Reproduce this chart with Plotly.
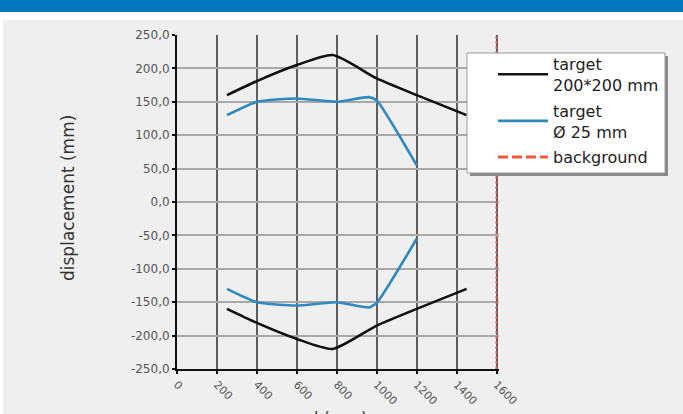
import plotly.graph_objects as go

# ---- data ----
x_big = [250, 400, 600, 780, 1000, 1200, 1450]
y_big_upper = [160, 181, 205, 220, 185, 160, 130]
y_big_lower = [-160, -181, -205, -220, -185, -160, -130]

x_small = [250, 400, 600, 800, 960, 1000, 1200]
y_small_upper = [130, 150, 155, 150, 157, 152, 55]
y_small_lower = [-130, -150, -155, -150, -158, -151, -55]

x_background = [1600, 1600]
y_background = [-250, 250]

x_tick_vals = [0, 200, 400, 600, 800, 1000, 1200, 1400, 1600]
x_tick_labels = ["0", "200", "400", "600", "800", "1000", "1200", "1400", "1600"]
y_tick_vals = [250, 200, 150, 100, 50, 0, -50, -100, -150, -200, -250]
y_tick_labels = ["250,0", "200,0", "150,0", "100,0", "50,0", "0,0", "-50,0",
                 "-100,0", "-150,0", "-200,0", "-250,0"]

names = ["target<br>200*200 mm", "target<br>Ø 25 mm", "background"]

# ---- layout geometry (pixels) ----
W, H = 683, 414
ML, MR, MT, MB = 177, 184, 35, 45
PW, PH = W - ML - MR, H - MT - MB


def px(x):
    return (x - ML) / PW


def py(y):
    return (H - MB - y) / PH


TXT = "DejaVu Sans, Verdana, sans-serif"

fig = go.Figure()

fig.add_trace(go.Scatter(
    x=x_big + [None] + x_big, y=y_big_upper + [None] + y_big_lower,
    mode="lines", name=names[0], line=dict(color="#111111", width=2.6, shape="spline", smoothing=0.6),
    connectgaps=False))
fig.add_trace(go.Scatter(
    x=x_small + [None] + x_small, y=y_small_upper + [None] + y_small_lower,
    mode="lines", name=names[1], line=dict(color="#2f88c2", width=2.6, shape="spline", smoothing=0.5),
    connectgaps=False))
fig.add_trace(go.Scatter(
    x=x_background, y=y_background, mode="lines", name=names[2], showlegend=False,
    legendgroup="bg", line=dict(color="#c65a5a", width=2, dash="3px,2px")))
fig.add_trace(go.Scatter(
    x=[None], y=[None], mode="lines", name=names[2], legendgroup="bg",
    line=dict(color="#f0583c", width=3, dash="10px,4px")))

shapes = [
    dict(type="rect", xref="paper", yref="paper", x0=px(0), x1=px(W), y0=py(12), y1=py(0),
         fillcolor="#0277bd", line=dict(width=0), layer="below"),
    dict(type="rect", xref="paper", yref="paper", x0=px(3), x1=px(W), y0=py(H), y1=py(20),
         fillcolor="#efefef", line=dict(width=0), layer="below"),
    # legend shadow + box
    dict(type="rect", xref="paper", yref="paper", x0=px(470), x1=px(668), y0=py(176), y1=py(56),
         fillcolor="#8a8a8a", line=dict(width=0), layer="above"),
    dict(type="rect", xref="paper", yref="paper", x0=px(467), x1=px(665), y0=py(173), y1=py(53),
         fillcolor="white", line=dict(width=1, color="#9a9a9a"), layer="above"),
]

fig.update_layout(
    width=W, height=H,
    margin=dict(l=ML, r=MR, t=MT, b=MB, pad=0, autoexpand=False),
    paper_bgcolor="white", plot_bgcolor="#efefef",
    shapes=shapes,
    showlegend=True,
    legend=dict(xref="container", yref="container", x=493 / W, y=1 - 47 / H,
                xanchor="left", yanchor="top",
                bgcolor="rgba(0,0,0,0)", borderwidth=0,
                font=dict(family=TXT, size=16, color="#222222"),
                tracegroupgap=2, itemwidth=50),
    annotations=[
        dict(text="displacement (mm)", textangle=-90, xref="paper", yref="paper",
             x=px(68), y=py(198), showarrow=False, xanchor="center", yanchor="middle",
             font=dict(family=TXT, size=17, color="#333333")),
        dict(text="l (mm)", xref="paper", yref="paper",
             x=px(340), y=py(406), showarrow=False, xanchor="center", yanchor="top",
             font=dict(family=TXT, size=16, color="#333333")),
    ],
)

fig.update_xaxes(range=[0, 1612], tickvals=x_tick_vals, ticktext=x_tick_labels,
                 tickangle=45, ticks="outside", ticklen=3, tickcolor="#111", tickwidth=2,
                 showline=True, linecolor="#111111", linewidth=2,
                 showgrid=True, gridcolor="#5e5e5e", gridwidth=1.8, zeroline=False,
                 tickfont=dict(family=TXT, size=11, color="#555555"))
fig.update_yaxes(range=[-250, 250], tickvals=y_tick_vals, ticktext=y_tick_labels,
                 ticks="outside", ticklen=3, tickcolor="#111", tickwidth=2,
                 showline=True, linecolor="#111111", linewidth=2,
                 showgrid=True, gridcolor="#a8a8a8", gridwidth=2, zeroline=False,
                 tickfont=dict(family=TXT, size=12, color="#555555"))

fig.write_html("out.html", config={"displayModeBar": False},
               post_script="document.body.style.margin='0';document.body.style.padding='0';")
